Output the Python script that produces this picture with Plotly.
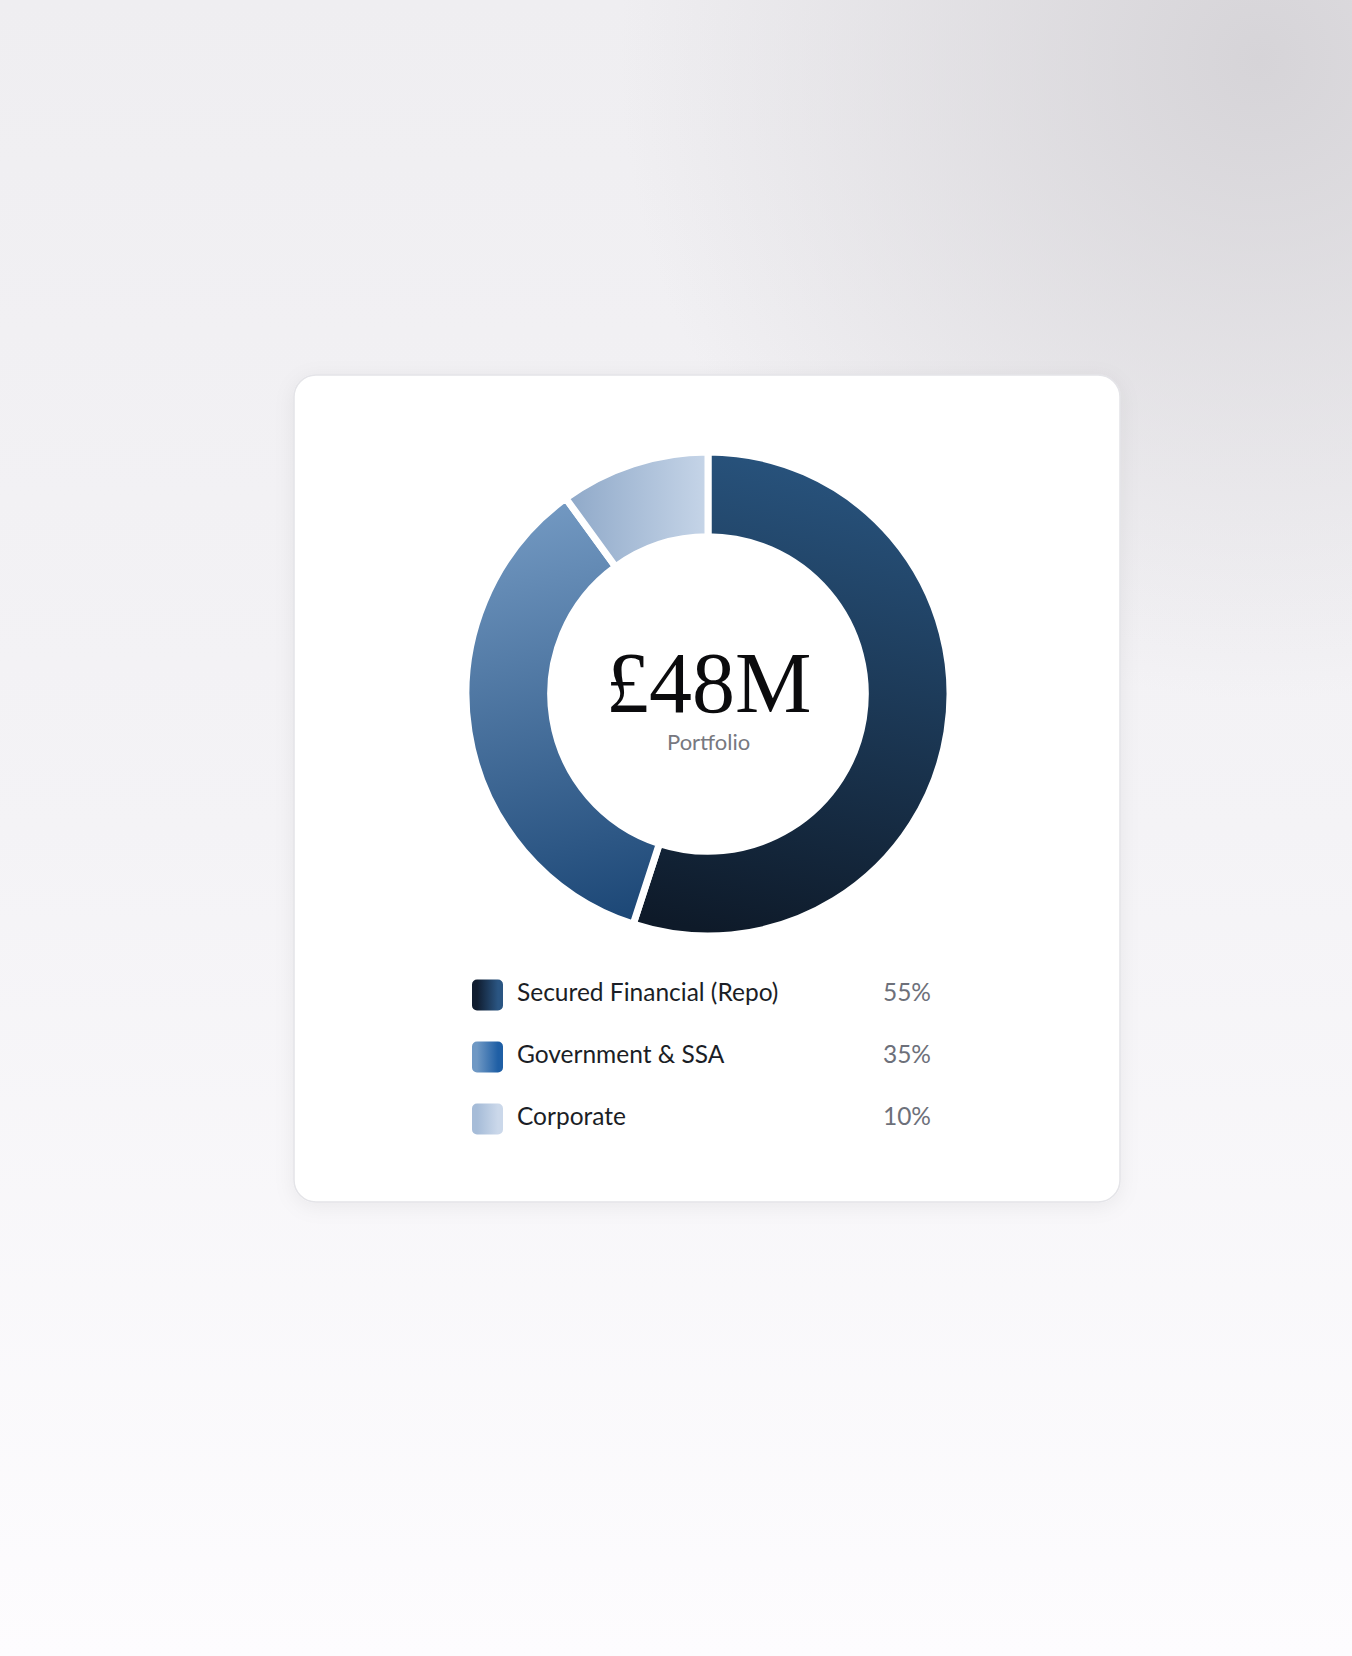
import base64
import json

import plotly.graph_objects as go

# portfolio split
categories = ["Secured Financial (Repo)", "Government & SSA", "Corporate"]
shares = [55, 35, 10]
share_labels = ["55%", "35%", "10%"]
total_label = "£48M"
subtitle = "Portfolio"

slice_colors = ["#1c3654", "#4a76a3", "#aabfd9"]
# (start colour, end colour, x1, y1, x2, y2) in slice bounding-box units
slice_gradients = [
    ("#28537d", "#0e1a29", 0.45, 0.0, 0.3, 1.0),
    ("#7399c2", "#1d4877", 0.5, 0.0, 0.6, 1.0),
    ("#8ea8c8", "#c6d5e8", 0.0, 0.5, 1.0, 0.5),
]
swatch_colors = ["#101d30", "#6f98c4", "#a6bcd8"]
swatch_gradient = ["#2a5582", "#1f5fa5", "#cbd8ea"]

W, H = 1352, 1656

# page background + white card, as an svg painted under the plot
bg_svg = f"""<svg xmlns='http://www.w3.org/2000/svg' width='{W}' height='{H}' viewBox='0 0 {W} {H}'>
<defs>
<linearGradient id='base' x1='0' y1='0' x2='0' y2='1'>
<stop offset='0' stop-color='#efeef1'/>
<stop offset='0.5' stop-color='#f4f3f6'/>
<stop offset='1' stop-color='#fdfcfe'/>
</linearGradient>
<radialGradient id='shade' cx='1260' cy='60' r='640' gradientUnits='userSpaceOnUse'>
<stop offset='0' stop-color='#d6d4d8' stop-opacity='1'/>
<stop offset='1' stop-color='#d6d4d8' stop-opacity='0'/>
</radialGradient>
<filter id='sh' x='-10%' y='-10%' width='120%' height='120%'>
<feDropShadow dx='0' dy='4' stdDeviation='10' flood-color='#000' flood-opacity='0.06'/>
</filter>
</defs>
<rect width='{W}' height='{H}' fill='url(#base)'/>
<rect width='{W}' height='{H}' fill='url(#shade)'/>
<rect x='294' y='375' width='826' height='827' rx='22' ry='22' fill='#ffffff' stroke='#e4e4e8' stroke-width='1.5' filter='url(#sh)'/>
</svg>"""
bg_uri = "data:image/svg+xml;base64," + base64.b64encode(bg_svg.encode()).decode()

fig = go.Figure()

# donut
fig.add_trace(
    go.Pie(
        labels=categories,
        values=shares,
        hole=0.65,
        sort=False,
        direction="clockwise",
        rotation=0,
        marker=dict(colors=slice_colors, line=dict(color="#ffffff", width=7)),
        textinfo="none",
        hoverinfo="label+percent",
        showlegend=False,
        domain=dict(x=[466 / W, 950 / W], y=[1 - 936 / H, 1 - 452 / H]),
    )
)

rows = list(range(len(categories)))

# legend swatches (stroke added in post_script to round the corners)
fig.add_trace(
    go.Scatter(
        x=[487.5] * len(rows),
        y=rows,
        mode="markers",
        marker=dict(
            symbol="square",
            size=21,
            color=swatch_colors,
            gradient=dict(type="horizontal", color=swatch_gradient),
            line=dict(width=0),
        ),
        hoverinfo="skip",
        showlegend=False,
    )
)
# legend labels
fig.add_trace(
    go.Scatter(
        x=[517] * len(rows),
        y=rows,
        mode="text",
        text=categories,
        textposition="middle right",
        textfont=dict(family="Lato", size=24.5, color="#1b1e26"),
        hoverinfo="skip",
        showlegend=False,
    )
)
# legend percentages
fig.add_trace(
    go.Scatter(
        x=[931] * len(rows),
        y=rows,
        mode="text",
        text=share_labels,
        textposition="middle left",
        textfont=dict(family="Lato", size=24.5, color="#6d707a"),
        hoverinfo="skip",
        showlegend=False,
    )
)

fig.update_xaxes(range=[0, W], domain=[0, 1], visible=False, fixedrange=True)
fig.update_yaxes(
    range=[2.5, -0.5],
    domain=[1 - 1150 / H, 1 - 964 / H],
    visible=False,
    fixedrange=True,
)

fig.add_annotation(
    text=total_label,
    x=708 / W,
    y=1 - 683 / H,
    xref="paper",
    yref="paper",
    showarrow=False,
    font=dict(family="Liberation Serif", size=86, color="#0b0b0d"),
    xanchor="center",
    yanchor="middle",
)
fig.add_annotation(
    text=subtitle,
    x=708 / W,
    y=1 - 741 / H,
    xref="paper",
    yref="paper",
    showarrow=False,
    font=dict(family="Lato", size=22, color="#77787f"),
    xanchor="center",
    yanchor="middle",
)

fig.update_layout(
    width=W,
    height=H,
    margin=dict(l=0, r=0, t=0, b=0),
    paper_bgcolor="#f4f3f6",
    plot_bgcolor="rgba(0,0,0,0)",
    images=[
        dict(
            source=bg_uri,
            xref="paper",
            yref="paper",
            x=0,
            y=1,
            sizex=1,
            sizey=1,
            xanchor="left",
            yanchor="top",
            sizing="stretch",
            layer="below",
        )
    ],
)

# shade each donut slice with its own linear gradient after plotly has drawn it,
# and round the legend swatches with a thick round-joined stroke
post_js = """
document.body.style.margin = '0';
var gd = document.getElementById('{plot_id}');
var ns = 'http://www.w3.org/2000/svg';
var grads = GRADS;
var defs = gd.querySelector('svg.main-svg defs');
gd.querySelectorAll('g.slice path.surface').forEach(function (p, i) {
    var g = grads[i];
    if (!g) return;
    var lg = document.createElementNS(ns, 'linearGradient');
    lg.setAttribute('id', 'slicegrad' + i);
    lg.setAttribute('x1', g[2]); lg.setAttribute('y1', g[3]);
    lg.setAttribute('x2', g[4]); lg.setAttribute('y2', g[5]);
    [[0, g[0]], [1, g[1]]].forEach(function (s) {
        var st = document.createElementNS(ns, 'stop');
        st.setAttribute('offset', s[0]);
        st.setAttribute('stop-color', s[1]);
        lg.appendChild(st);
    });
    defs.appendChild(lg);
    p.style.fill = 'url(#slicegrad' + i + ')';
});
var sw = gd.querySelectorAll('g.trace.scatter')[0];
if (sw) {
    sw.querySelectorAll('path.point').forEach(function (p) {
        p.style.stroke = p.style.fill;
        p.style.strokeWidth = '10px';
        p.style.strokeLinejoin = 'round';
        p.style.strokeOpacity = '1';
    });
}
""".replace("GRADS", json.dumps(slice_gradients))

fig.write_html("out.html", config={"displayModeBar": False}, post_script=post_js)
